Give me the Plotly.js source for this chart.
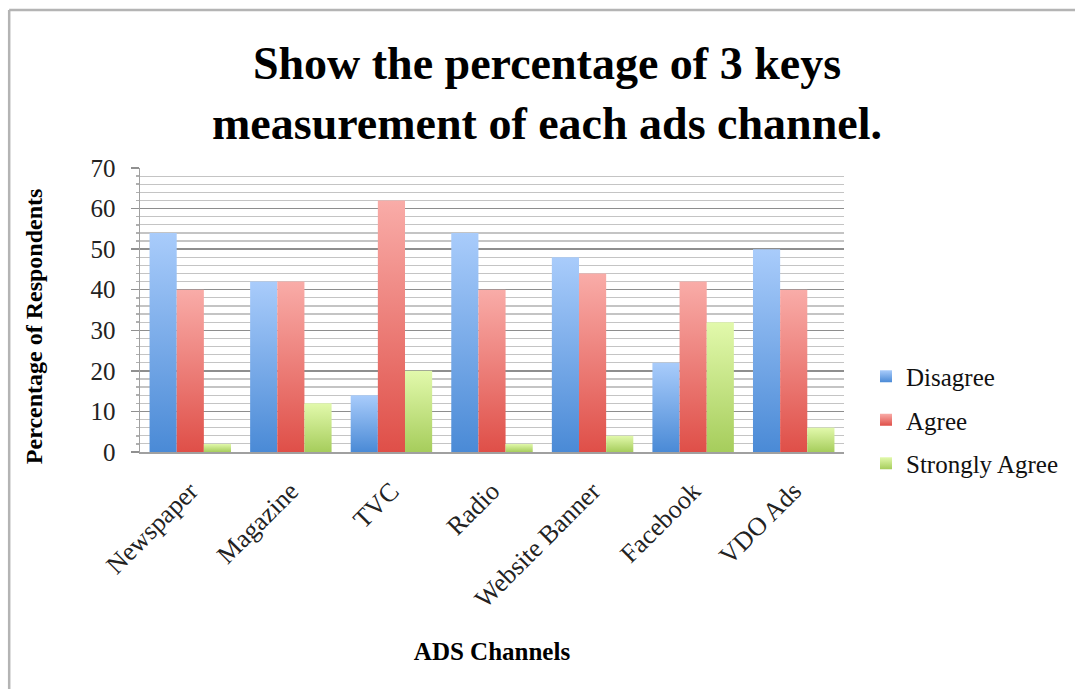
<!DOCTYPE html>
<html>
<head>
<meta charset="utf-8">
<script src="https://cdn.plot.ly/plotly-3.0.1.min.js"></script>
<style>
  html, body { margin: 0; padding: 0; background: #ffffff; }
  #chart { width: 1075px; height: 689px; }
</style>
</head>
<body>
<div id="chart"></div>
<script>
// Survey results per advertising channel (percentage of respondents)
const channels = ['Newspaper', 'Magazine', 'TVC', 'Radio', 'Website Banner', 'Facebook', 'VDO Ads'];
const disagree = [54, 42, 14, 54, 48, 22, 50];
const agree = [40, 42, 62, 40, 44, 42, 40];
const stronglyAgree = [2, 12, 20, 2, 4, 32, 6];
const seriesNames = ['Disagree', 'Agree', 'Strongly Agree'];
const yTicks = [0, 10, 20, 30, 40, 50, 60, 70];

// Vertical gradient (top colour, bottom colour) for each series
const seriesShades = [
  ['#a9ccfb', '#4a8ad6'],
  ['#f9aca8', '#df4f48'],
  ['#e2f9ac', '#a6cd5c']
];
const seriesFlat = ['#78abea', '#ec7d77', '#c4e386'];

const serif = 'Liberation Serif, Times New Roman, serif';
const M = { l: 140, r: 230, t: 168, b: 237 };
const W = 1075, H = 689;
const plotW = W - M.l - M.r, plotH = H - M.t - M.b;
const px2x = px => (px - M.l) / plotW;
const px2y = py => (H - M.b - py) / plotH;

const values = [disagree, agree, stronglyAgree];
const traces = values.map((v, i) => ({
  type: 'bar',
  name: seriesNames[i],
  x: channels,
  y: v,
  legendgroup: 'g' + i,
  marker: { color: seriesFlat[i], line: { width: 0 } },
  hoverinfo: 'x+y+name'
}));

const layout = {
  width: W,
  height: H,
  margin: M,
  paper_bgcolor: '#ffffff',
  plot_bgcolor: '#ffffff',
  barmode: 'group',
  bargap: 0.19,
  bargroupgap: 0,
  font: { family: serif, color: '#1a1a1a' },
  title: {
    text: 'Show the percentage of 3 keys<br>measurement of each ads channel.',
    font: { family: serif, size: 46, weight: 'bold', color: '#000000' },
    xref: 'container', x: 547 / W, xanchor: 'center',
    yref: 'container', y: 1 - 79 / H, yanchor: 'middle'
  },
  xaxis: {
    type: 'category',
    tickangle: -45,
    tickfont: { family: serif, size: 26, color: '#222222' },
    ticklabelstandoff: 12,
    showline: true, linecolor: '#a0a0a0', linewidth: 1.5,
    ticks: '',
    showgrid: false,
    automargin: false,
    title: {
      text: 'ADS Channels',
      font: { family: serif, size: 25, weight: 'bold', color: '#000000' },
      standoff: 30
    }
  },
  yaxis: {
    range: [0, 70],
    tickvals: yTicks,
    tickfont: { family: serif, size: 25, color: '#222222' },
    showline: true, linecolor: '#a0a0a0', linewidth: 1.5,
    ticks: 'outside', ticklen: 8, tickcolor: '#909090', tickwidth: 1.5,
    ticklabelstandoff: 10,
    showgrid: true, gridcolor: '#8e8e8e', gridwidth: 1.5,
    zeroline: false,
    minor: {
      dtick: 2, showgrid: true, gridcolor: '#c4c4c4', gridwidth: 1.2,
      ticks: 'outside', ticklen: 3, tickcolor: '#b0b0b0'
    },
    automargin: false
  },
  annotations: [
    // y-axis title, set slightly below the plot's vertical centre
    {
      text: 'Percentage of Respondents',
      xref: 'paper', yref: 'paper',
      x: px2x(34), y: px2y(326),
      xanchor: 'center', yanchor: 'middle',
      textangle: -90, showarrow: false,
      font: { family: serif, size: 24, weight: 'bold', color: '#000000' }
    }
  ],
  legend: {
    x: px2x(866), xanchor: 'left',
    y: px2y(420), yanchor: 'middle',
    traceorder: 'grouped',
    tracegroupgap: 8,
    font: { family: serif, size: 25, color: '#111111' },
    bgcolor: 'rgba(0,0,0,0)'
  },
  shapes: [
    // outer frame (top and left edges)
    { type: 'line', xref: 'paper', yref: 'paper', x0: px2x(9), x1: px2x(W + 5), y0: px2y(10), y1: px2y(10),
      line: { color: '#b4b4b4', width: 2.5 } },
    { type: 'line', xref: 'paper', yref: 'paper', x0: px2x(9), x1: px2x(9), y0: px2y(10), y1: px2y(H + 5),
      line: { color: '#b4b4b4', width: 2.5 } }
  ],
  showlegend: true
};

Plotly.newPlot('chart', traces, layout, { displayModeBar: false, staticPlot: true }).then(gd => {
  // Apply vertical gradient fills to bars and legend swatches
  const ns = 'http://www.w3.org/2000/svg';
  const svg = gd.querySelector('svg.main-svg');
  let defs = svg.querySelector('defs');
  if (!defs) { defs = document.createElementNS(ns, 'defs'); svg.insertBefore(defs, svg.firstChild); }
  seriesShades.forEach((pair, i) => {
    const lg = document.createElementNS(ns, 'linearGradient');
    lg.setAttribute('id', 'barShade' + i);
    lg.setAttribute('x1', '0'); lg.setAttribute('y1', '0');
    lg.setAttribute('x2', '0'); lg.setAttribute('y2', '1');
    [[0, pair[0]], [1, pair[1]]].forEach(([off, col]) => {
      const st = document.createElementNS(ns, 'stop');
      st.setAttribute('offset', off);
      st.setAttribute('stop-color', col);
      lg.appendChild(st);
    });
    defs.appendChild(lg);
  });
  gd.querySelectorAll('.barlayer .trace.bars').forEach((tr, i) => {
    tr.querySelectorAll('path').forEach(p => { p.style.fill = 'url(#barShade' + i + ')'; });
  });
  gd.querySelectorAll('.legend .traces').forEach((tr, i) => {
    tr.querySelectorAll('.legendpoints path').forEach(p => { p.style.fill = 'url(#barShade' + i + ')'; });
  });
});
</script>
</body>
</html>
